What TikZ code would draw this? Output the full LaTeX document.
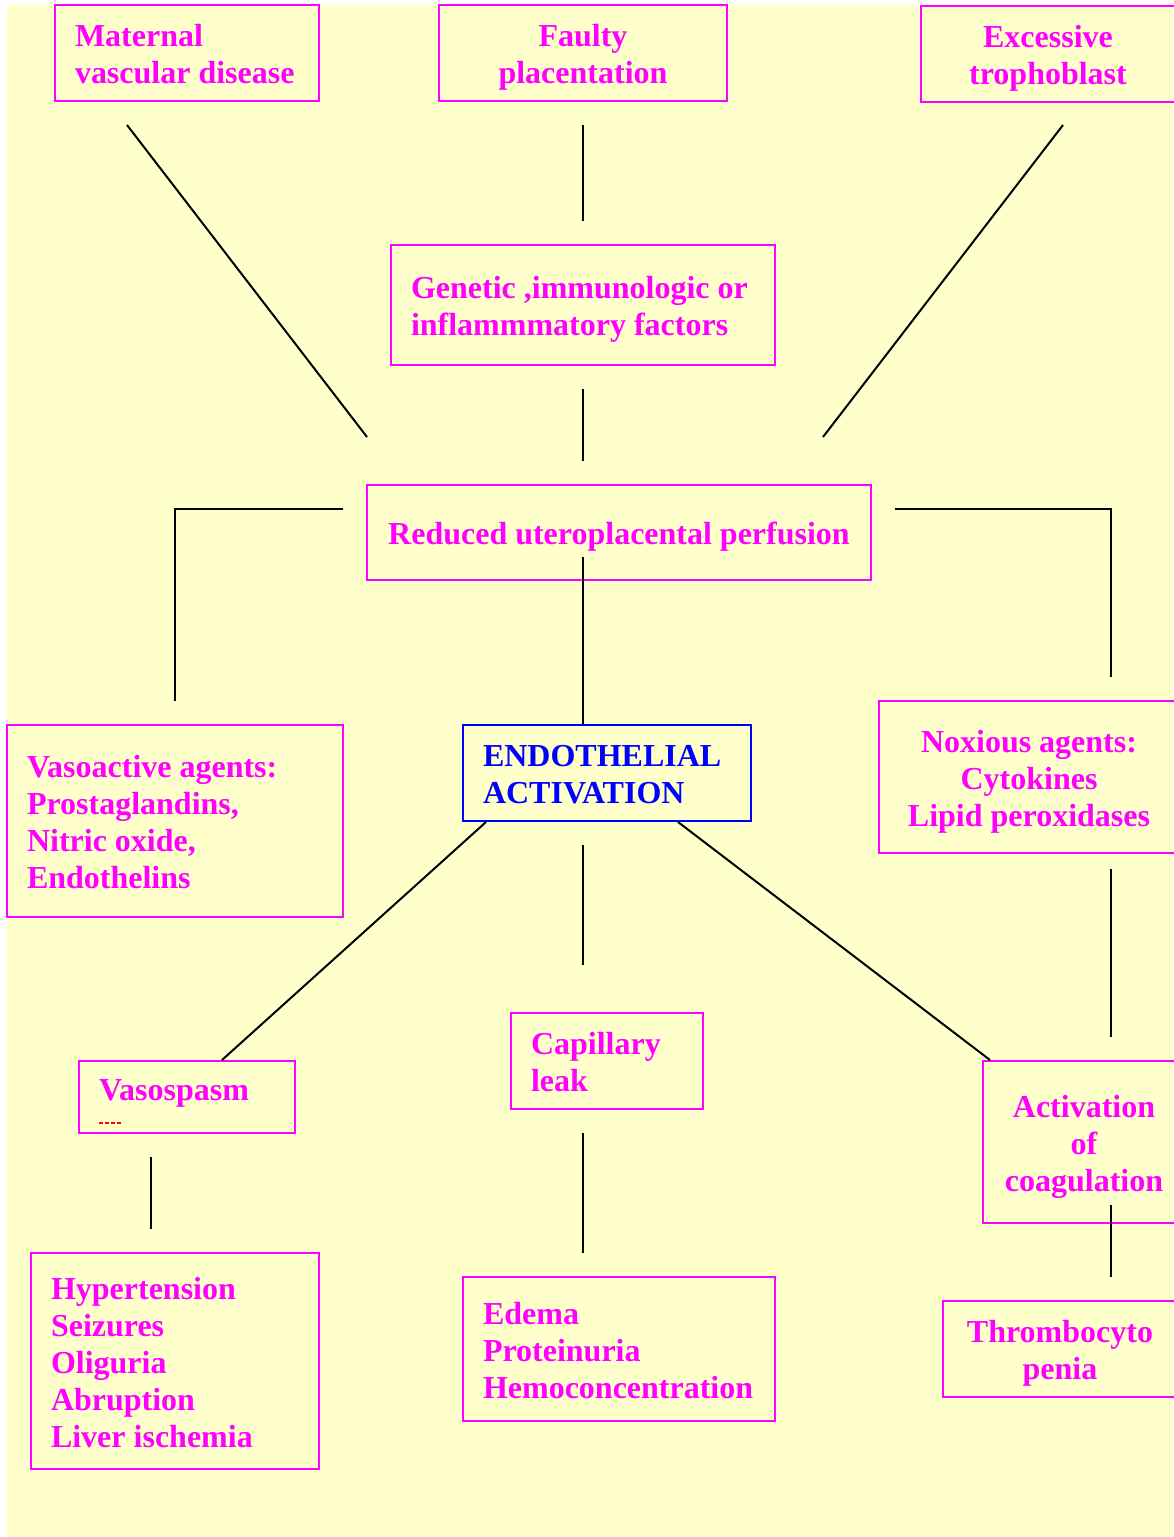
\documentclass[tikz,border=0pt]{standalone}
\usepackage{fontspec}
\setmainfont{Liberation Serif}
\usepackage{tikz}
\usetikzlibrary{calc}
\definecolor{magbox}{RGB}{255,0,255}
\definecolor{endoblue}{RGB}{0,0,255}
\definecolor{bgyellow}{RGB}{255,255,204}
\hyphenpenalty=10000

\begin{document}
\begin{tikzpicture}[x=0.5pt,y=-0.5pt,line width=1pt,
  texttop/.store in=\texttop,textsink/.store in=\textsink,
  box/.style={draw=magbox,text=magbox,line width=1pt,inner ysep=0pt,
    texttop=16pt,textsink=4pt,
    execute at begin node={\spaceskip=0.25em\relax\vrule width 0pt height \texttop depth 0pt\relax},
    execute at end node={\vrule width 0pt height 0pt depth \textsink\relax},
    font=\bfseries\fontsize{16}{18.5}\selectfont},
  lbox/.style={box,align=left,inner xsep=10pt},
  cbox/.style={box,align=center,inner xsep=2pt}]
  \useasboundingbox (0,0) rectangle (1173,1537);
  \fill[bgyellow] (7,5) rectangle (1173,1537);
  % causes
  \node[lbox,text width=112pt,minimum height=48pt] (mat) at (187,53) {Maternal\\vascular disease};
  \node[cbox,text width=140pt,minimum height=48pt] (fp) at (583,53) {Faulty\\placentation};
  \node[cbox,text width=123pt,minimum height=48pt] (exc) at (1048,54) {Excessive\\trophoblast};
  \node[lbox,text width=172pt,minimum height=60pt] (gen) at (583,305) {Genetic ,immunologic or\\inflammmatory factors};
  \node[cbox,text width=248pt,minimum height=47.5pt] (red) at (619,532.5) {Reduced uteroplacental perfusion};
  % middle row
  \node[lbox,text width=148pt,minimum height=96pt] (vas) at (175,821) {Vasoactive agents:\\Prostaglandins,\\Nitric oxide,\\Endothelins};
  \node[lbox,draw=endoblue,text=endoblue,text width=124pt,minimum height=48pt] (endo) at (607,773) {ENDOTHELIAL\\ACTIVATION};
  \node[cbox,text width=146pt,minimum height=76pt] (nox) at (1029,777) {Noxious agents:\\Cytokines\\Lipid peroxidases};
  % effects
  \node[lbox,textsink=12.5pt,text width=88pt,minimum height=36pt] (spasm) at (187,1097) {Vasospasm};
  \node[lbox,text width=76pt,minimum height=48pt] (cap) at (607,1061) {Capillary\\leak};
  \node[cbox,text width=97pt,minimum height=81pt] (act) at (1084,1142) {Activation\\of\\coagulation};
  \node[lbox,text width=124pt,minimum height=108pt] (hyp) at (175,1361) {Hypertension\\Seizures\\Oliguria\\Abruption\\Liver ischemia};
  \node[lbox,text width=136pt,minimum height=72pt] (edm) at (619,1349) {Edema\\Proteinuria\\Hemoconcentration};
  \node[cbox,text width=113pt,minimum height=48pt] (thr) at (1060,1349) {Thrombocyto\\penia};
  \draw[red,dash pattern=on 2pt off 1pt] (99,1123) -- (121,1123);
  % connector ends
  \coordinate (matS) at (127,125);  \coordinate (redNW) at (367,437);
  \coordinate (fpS) at (583,125);   \coordinate (genN) at (583,221);
  \coordinate (excS) at (1063,125); \coordinate (redNE) at (823,437);
  \coordinate (genS) at (583,389);  \coordinate (redN) at (583,461);
  \coordinate (redW) at (343,509);  \coordinate (vasN) at (175,701);
  \coordinate (redE) at (895,509);  \coordinate (noxN) at (1111,677);
  \coordinate (redS) at (583,557);
  \coordinate (endoS) at (583,845); \coordinate (capN) at (583,965);
  \coordinate (noxS) at (1111,869); \coordinate (actN) at (1111,1037);
  \coordinate (spasmS) at (151,1157); \coordinate (hypN) at (151,1229);
  \coordinate (capS) at (583,1133); \coordinate (edmN) at (583,1253);
  \coordinate (actS) at (1111,1205); \coordinate (thrN) at (1111,1277);
  \draw (matS) -- (redNW);
  \draw (fpS) -- (genN);
  \draw (excS) -- (redNE);
  \draw (genS) -- (redN);
  \draw (redW) -| (vasN);
  \draw (redE) -| (noxN);
  \draw (redS) -- (redS |- endo.north);
  \draw ($(endo.south west)+(24,0)$) -- ($(spasm.north west)+(144,0)$);
  \draw ($(endo.south west)+(216,0)$) -- ($(act.north west)+(8,0)$);
  \draw (endoS) -- (capN);
  \draw (noxS) -- (actN);
  \draw (spasmS) -- (hypN);
  \draw (capS) -- (edmN);
  \draw (actS) -- (thrN);
\end{tikzpicture}
\end{document}
